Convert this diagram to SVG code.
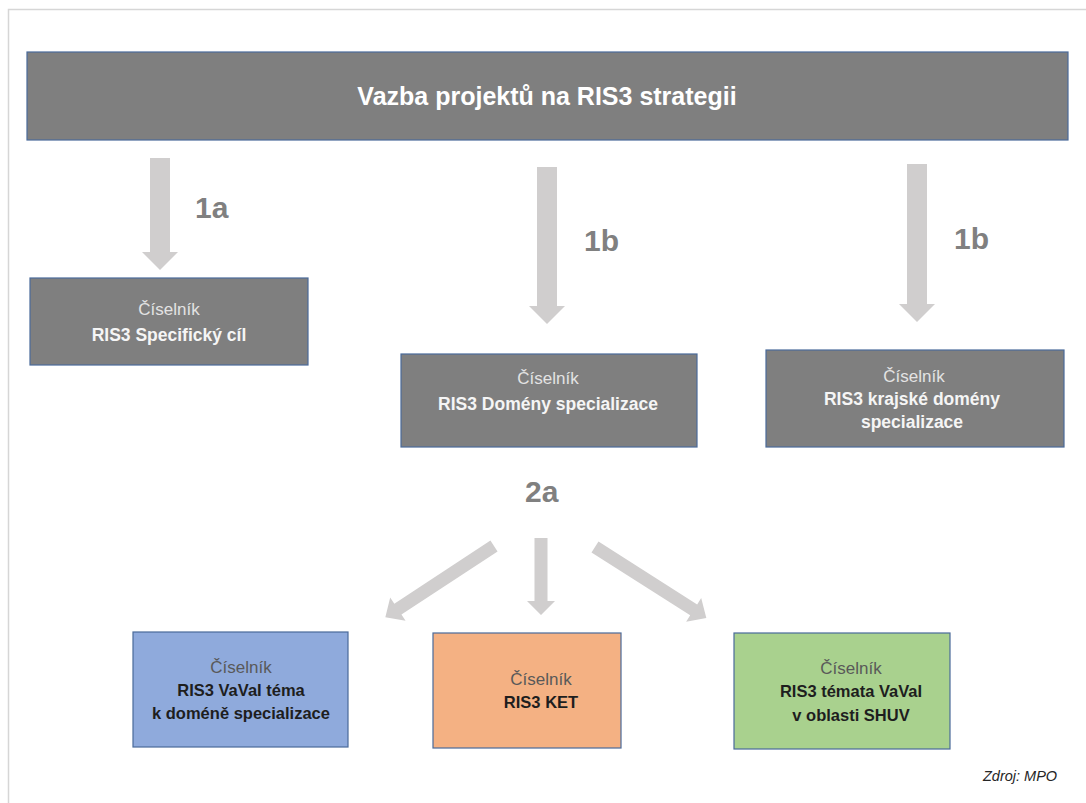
<svg xmlns="http://www.w3.org/2000/svg" width="1086" height="803" viewBox="0 0 1086 803">
<style>
.frame{fill:none;stroke:#d6d6d6;stroke-width:1.5}
.dark{fill:#7f7f7f;stroke:#4a6a9a;stroke-width:1.2}
.blue{fill:#8faadc;stroke:#4a6a9a;stroke-width:1.2}
.orange{fill:#f4b183;stroke:#4a6a9a;stroke-width:1.2}
.green{fill:#a9d18e;stroke:#4a6a9a;stroke-width:1.2}
.arr{fill:#d0cece}
text{font-family:"Liberation Sans",Arial,sans-serif;text-anchor:middle}
.title{font-size:25px;font-weight:bold;fill:#ffffff}
.lbl{font-size:30px;font-weight:bold;fill:#808080;text-anchor:start}
.l1{font-size:17px;fill:#e3e3e3}
.l2{font-size:17.5px;font-weight:bold;fill:#f5f5f5}
.d1{font-size:17px;fill:#595959}
.d2{font-size:16.5px;font-weight:bold;fill:#1e1e1e}
.src{font-size:14.5px;font-style:italic;fill:#262626;text-anchor:start}
</style>
<rect width="1086" height="803" fill="#ffffff"/>
<path class="frame" d="M8.5,803 V9.5 H1086"/>

<g id="connectors">
  <polygon class="arr" points="150,158 170,158 170,252 178,252 160,270 142,252 150,252"/>
  <polygon class="arr" points="537,167 557,167 557,306 565,306 547,324 529,306 537,306"/>
  <polygon class="arr" points="907,164 927,164 927,304 935,304 917,322 899,304 907,304"/>
  <polygon class="arr" points="534.5,538 547.5,538 547.5,601 555,601 541,615 527,601 534.5,601"/>
  <polygon class="arr" transform="translate(494,546) rotate(146.7)" points="0,-6.5 115,-6.5 115,-14 130,0 115,14 115,6.5 0,6.5"/>
  <polygon class="arr" transform="translate(595,547) rotate(32.5)" points="0,-6.5 117,-6.5 117,-14 132,0 117,14 117,6.5 0,6.5"/>
  <text class="lbl" x="195" y="218">1a</text>
  <text class="lbl" x="584" y="251">1b</text>
  <text class="lbl" x="954" y="249">1b</text>
  <text class="lbl" x="525" y="502">2a</text>
</g>

<g id="node-top">
  <rect class="dark" x="27" y="52" width="1041" height="88"/>
  <text class="title" x="547" y="105">Vazba projektů na RIS3 strategii</text>
</g>

<g id="node-specificky-cil">
  <rect class="dark" x="30" y="278" width="278" height="87"/>
  <text class="l1" x="169" y="315">Číselník</text>
  <text class="l2" x="169" y="341">RIS3 Specifický cíl</text>
</g>

<g id="node-domeny">
  <rect class="dark" x="401" y="354" width="296" height="93"/>
  <text class="l1" x="548" y="384">Číselník</text>
  <text class="l2" x="548" y="410">RIS3 Domény specializace</text>
</g>

<g id="node-krajske">
  <rect class="dark" x="766" y="350" width="298" height="97"/>
  <text class="l1" x="914" y="382">Číselník</text>
  <text class="l2" x="912" y="405">RIS3 krajské domény</text>
  <text class="l2" x="912" y="428">specializace</text>
</g>

<g id="node-vavai">
  <rect class="blue" x="133" y="632" width="215" height="115"/>
  <text class="d1" x="241" y="673">Číselník</text>
  <text class="d2" x="241" y="696">RIS3 VaVaI téma</text>
  <text class="d2" x="241" y="719">k doméně specializace</text>
</g>

<g id="node-ket">
  <rect class="orange" x="433" y="633" width="188" height="115"/>
  <text class="d1" x="541" y="685">Číselník</text>
  <text class="d2" x="541" y="708">RIS3 KET</text>
</g>

<g id="node-shuv">
  <rect class="green" x="734" y="633" width="216" height="116"/>
  <text class="d1" x="851" y="674">Číselník</text>
  <text class="d2" x="851" y="697">RIS3 témata VaVaI</text>
  <text class="d2" x="851" y="721">v oblasti SHUV</text>
</g>

<text class="src" x="983" y="781">Zdroj: MPO</text>
</svg>
